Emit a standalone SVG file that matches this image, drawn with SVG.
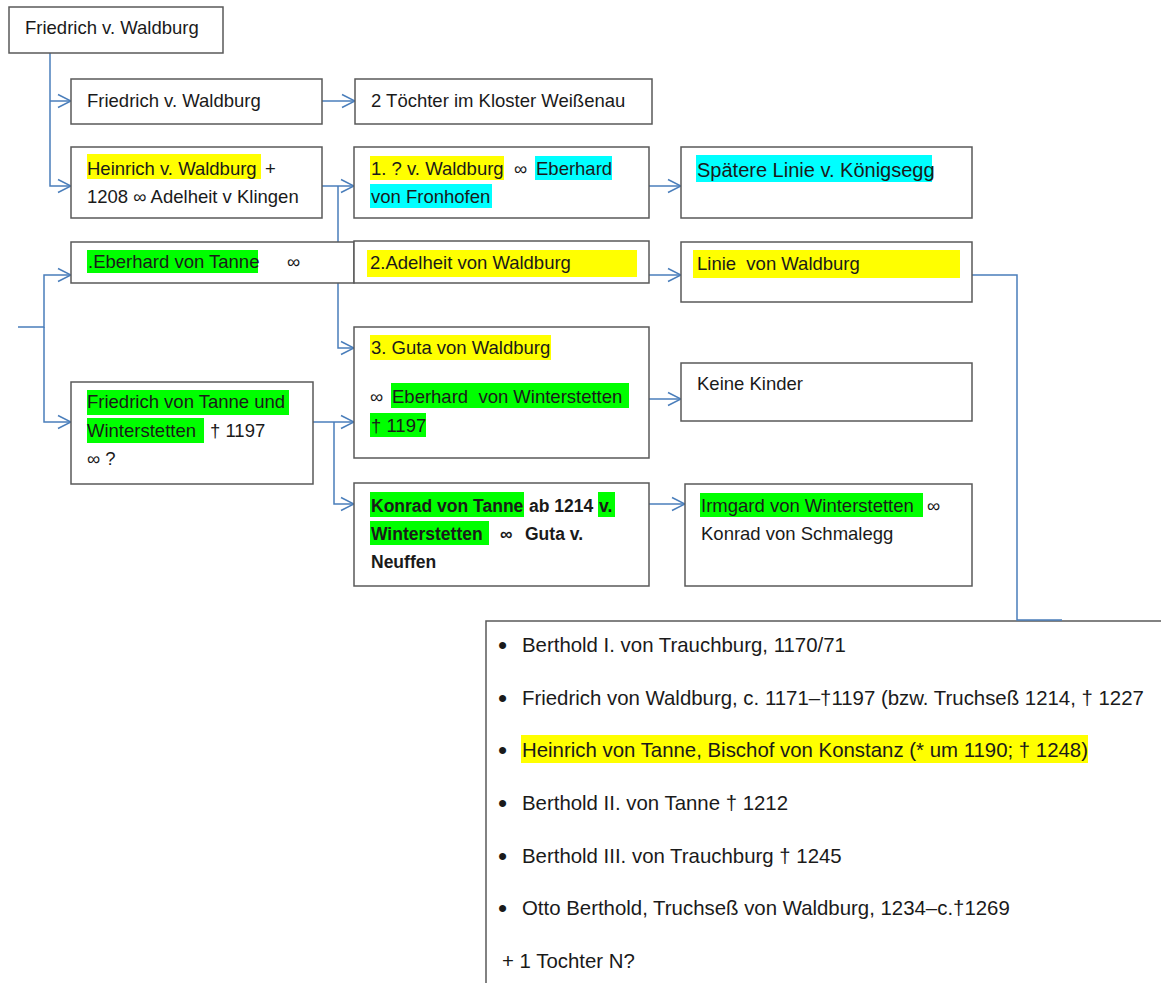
<svg xmlns="http://www.w3.org/2000/svg" width="1161" height="983" viewBox="0 0 1161 983">
<defs>
<style>
.box{fill:#fff;stroke:#595959;stroke-width:1.5}
.t{font-family:"Liberation Sans",Arial,sans-serif;font-size:18.5px;fill:#1a1a1a;white-space:pre}
.b{font-weight:bold;font-size:17.5px}
.big{font-size:20px}
.lst{font-size:20.4px}
.bul{font-size:26px}
.hy{fill:#ffff00}
.hc{fill:#00ffff}
.hg{fill:#00ff00}
.conn{fill:none;stroke:#4a7ebb;stroke-width:1.5}
.arr{marker-end:url(#ah)}
</style>
<marker id="ah" markerUnits="userSpaceOnUse" markerWidth="16" markerHeight="16" viewBox="0 0 16 16" refX="15" refY="8" orient="auto">
<path d="M2,1.5 L15,8 L2,14.5" fill="none" stroke="#4a7ebb" stroke-width="1.5"/>
</marker>
</defs>
<rect width="1161" height="983" fill="#fff"/>

<g id="n-bottom">
<rect class="box" x="486" y="621" width="700" height="400"/>
<rect class="hy" x="521" y="735" width="567" height="28"/>
<text class="t bul" x="498" y="654">•</text>
<text class="t lst" x="522" y="652">Berthold I. von Trauchburg, 1170/71</text>
<text class="t bul" x="498" y="707">•</text>
<text class="t lst" x="522" y="705">Friedrich von Waldburg, c. 1171–†1197 (bzw. Truchseß 1214, † 1227</text>
<text class="t bul" x="498" y="759">•</text>
<text class="t lst" x="522" y="757">Heinrich von Tanne, Bischof von Konstanz (* um 1190; † 1248)</text>
<text class="t bul" x="498" y="812">•</text>
<text class="t lst" x="522" y="810">Berthold II. von Tanne † 1212</text>
<text class="t bul" x="498" y="865">•</text>
<text class="t lst" x="522" y="863">Berthold III. von Trauchburg † 1245</text>
<text class="t bul" x="498" y="917">•</text>
<text class="t lst" x="522" y="915">Otto Berthold, Truchseß von Waldburg, 1234–c.†1269</text>
<text class="t lst" x="502" y="968">+ 1 Tochter N?</text>
</g>

<g id="connectors">
<path class="conn" d="M50,53 V101"/>
<path class="conn arr" d="M50,101 V186 H71"/>
<path class="conn arr" d="M50,101 H71"/>
<path class="conn arr" d="M322,101 H355"/>
<path class="conn arr" d="M322,186 H354"/>
<path class="conn arr" d="M338,186 V348 H354"/>
<path class="conn arr" d="M338,275 H354"/>
<path class="conn arr" d="M649,186 H681"/>
<path class="conn arr" d="M649,275 H681"/>
<path class="conn arr" d="M18,327 H44 V275 H71"/>
<path class="conn arr" d="M44,327 V422 H71"/>
<path class="conn arr" d="M313,422 H354"/>
<path class="conn arr" d="M334,422 V504 H354"/>
<path class="conn arr" d="M649,399 H681"/>
<path class="conn arr" d="M649,504 H685"/>
<path class="conn" d="M972,275 H1017 V620 H1062"/>
</g>

<g id="n-friedrich-root">
<rect class="box" x="9" y="7" width="214" height="46"/>
<text class="t" x="25" y="34">Friedrich v. Waldburg</text>
</g>

<g id="n-friedrich-2">
<rect class="box" x="71" y="79" width="251" height="45"/>
<text class="t" x="87" y="107">Friedrich v. Waldburg</text>
</g>

<g id="n-toechter">
<rect class="box" x="355" y="79" width="297" height="45"/>
<text class="t" x="371" y="107">2 Töchter im Kloster Weißenau</text>
</g>

<g id="n-heinrich">
<rect class="box" x="71" y="147" width="251" height="71"/>
<rect class="hy" x="87" y="154" width="174" height="25"/>
<text class="t" x="87" y="175">Heinrich v. Waldburg<tspan x="265">+</tspan></text>
<text class="t" x="87" y="203">1208 ∞ Adelheit v Klingen</text>
</g>

<g id="n-waldburg-1">
<rect class="box" x="354" y="147" width="295" height="71"/>
<rect class="hy" x="370" y="156" width="134" height="24"/>
<rect class="hc" x="535" y="156" width="77" height="24"/>
<rect class="hc" x="370" y="184" width="122" height="24"/>
<text class="t" x="371" y="175">1. ? v. Waldburg<tspan x="514">∞</tspan><tspan x="536">Eberhard</tspan></text>
<text class="t" x="371" y="203">von Fronhofen</text>
</g>

<g id="n-koenigsegg">
<rect class="box" x="681" y="147" width="291" height="71"/>
<rect class="hc" x="696" y="155" width="236" height="27"/>
<text class="t big" x="697" y="177">Spätere Linie v. Königsegg</text>
</g>

<g id="n-eberhard-tanne">
<rect class="box" x="71" y="242" width="283" height="41"/>
<rect class="hg" x="87" y="250" width="171" height="23"/>
<text class="t" x="88" y="268">.Eberhard von Tanne</text>
<text class="t" x="287" y="268">∞</text>
</g>

<g id="n-adelheit">
<rect class="box" x="354" y="241" width="295" height="42"/>
<rect class="hy" x="367" y="250" width="270" height="27"/>
<text class="t" x="370" y="269">2.Adelheit von Waldburg</text>
</g>

<g id="n-linie-waldburg">
<rect class="box" x="681" y="242" width="291" height="60"/>
<rect class="hy" x="693" y="250" width="267" height="28"/>
<text class="t" x="697" y="270">Linie  von Waldburg</text>
</g>

<g id="n-guta">
<rect class="box" x="354" y="327" width="295" height="131"/>
<rect class="hy" x="370" y="335" width="181" height="25"/>
<rect class="hg" x="391" y="383" width="238" height="25"/>
<rect class="hg" x="370" y="413" width="56" height="24"/>
<text class="t" x="371" y="354">3. Guta von Waldburg</text>
<text class="t" x="370" y="403">∞<tspan x="392">Eberhard  von Winterstetten</tspan></text>
<text class="t" x="371" y="432">† 1197</text>
</g>

<g id="n-keine-kinder">
<rect class="box" x="681" y="363" width="291" height="58"/>
<text class="t" x="697" y="390">Keine Kinder</text>
</g>

<g id="n-friedrich-tanne">
<rect class="box" x="71" y="382" width="242" height="102"/>
<rect class="hg" x="87" y="390" width="202" height="25"/>
<rect class="hg" x="87" y="418" width="117" height="25"/>
<text class="t" x="87" y="408">Friedrich von Tanne und</text>
<text class="t" x="87" y="437">Winterstetten<tspan x="210">† 1197</tspan></text>
<text class="t" x="87" y="465">∞ ?</text>
</g>

<g id="n-konrad">
<rect class="box" x="354" y="483" width="295" height="103"/>
<rect class="hg" x="370" y="492" width="154" height="25"/>
<rect class="hg" x="598" y="492" width="17" height="25"/>
<rect class="hg" x="370" y="521" width="119" height="24"/>
<text class="t b" x="371" y="512">Konrad von Tanne<tspan x="529">ab 1214</tspan><tspan x="599">v.</tspan></text>
<text class="t b" x="371" y="540">Winterstetten<tspan x="500">∞</tspan><tspan x="525">Guta v.</tspan></text>
<text class="t b" x="371" y="568">Neuffen</text>
</g>

<g id="n-irmgard">
<rect class="box" x="685" y="484" width="287" height="102"/>
<rect class="hg" x="700" y="493" width="223" height="24"/>
<text class="t" x="701" y="512">Irmgard von Winterstetten<tspan x="927">∞</tspan></text>
<text class="t" x="701" y="540">Konrad von Schmalegg</text>
</g>
</svg>
